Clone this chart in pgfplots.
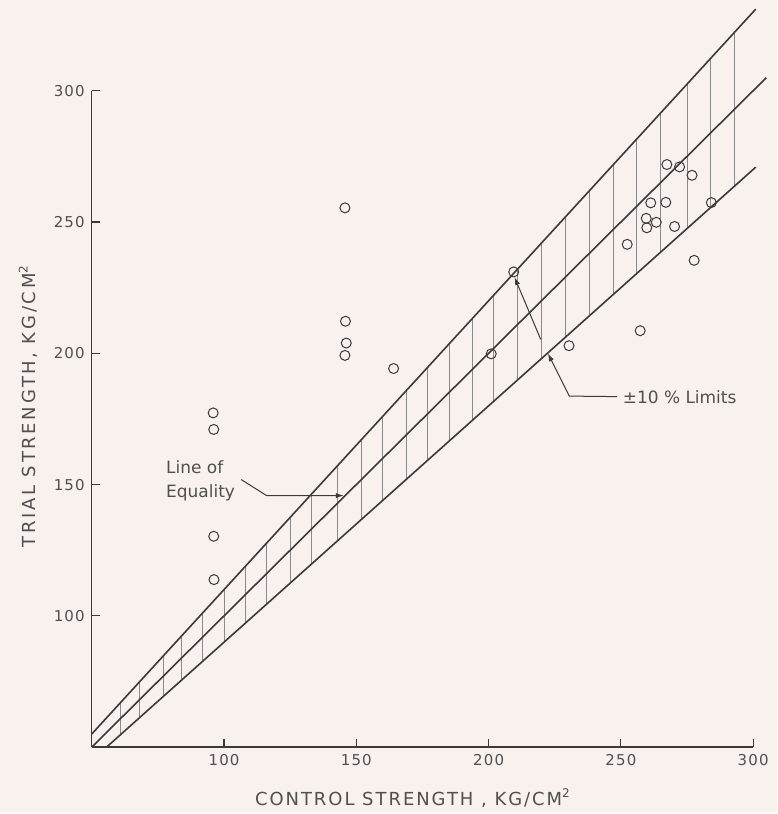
\documentclass[border=0pt]{standalone}
\usepackage{fontspec}
\setmainfont{DejaVu Sans}
\newfontfamily\tickfont[LetterSpace=8]{DejaVu Sans}
\newfontfamily\xlabfont[LetterSpace=11]{DejaVu Sans}
\newfontfamily\ylabfont[LetterSpace=15]{DejaVu Sans}
\usepackage{pgfplots}
\pgfplotsset{compat=1.18}
\usetikzlibrary{arrows.meta,backgrounds}
\definecolor{bg}{HTML}{F8F1ED}
\definecolor{ink}{HTML}{3A3A3A}
\definecolor{txt}{HTML}{505050}
\definecolor{hatch}{HTML}{8A8A8A}

\begin{document}
\begin{tikzpicture}
\begin{axis}[
  x=1.326pt, y=1.316pt,
  xmin=50, xmax=300, ymin=50, ymax=300,
  axis x line=bottom, axis y line=left,
  x axis line style={-}, y axis line style={-},
  axis line style={ink, line width=0.7pt},
  xtick={100,150,200,250,300}, ytick={100,150,200,250,300},
  tick align=inside,
  major tick length=4pt,
  tick style={ink, line width=0.6pt},
  ticklabel style={font=\tickfont\fontsize{7.5}{9}\selectfont, text=txt},
  /pgf/number format/assume math mode=true,
  clip=false,
  unbounded coords=jump,
]
\coordinate (bl) at (axis cs:15.31,25.30);
\coordinate (tr) at (axis cs:309.05,334.57);

% hatching between the +-10% limits
\addplot[hatch, line width=0.4pt] coordinates {
(61,54.9) (61,67.1) (61,nan)
(68,61.2) (68,74.8) (68,nan)
(77,69.3) (77,84.7) (77,nan)
(84,75.6) (84,92.4) (84,nan)
(92,82.8) (92,101.2) (92,nan)
(100,90) (100,110) (100,nan)
(108,97.2) (108,118.8) (108,nan)
(116,104.4) (116,127.6) (116,nan)
(125,112.5) (125,137.5) (125,nan)
(133,119.7) (133,146.3) (133,nan)
(143,128.7) (143,157.3) (143,nan)
(152,136.8) (152,167.2) (152,nan)
(160,144) (160,176) (160,nan)
(169,152.1) (169,185.9) (169,nan)
(177,159.3) (177,194.7) (177,nan)
(185,166.5) (185,203.5) (185,nan)
(194,174.6) (194,213.4) (194,nan)
(202,181.8) (202,222.2) (202,nan)
(211,189.9) (211,232.1) (211,nan)
(220,198) (220,242) (220,nan)
(229,206.1) (229,251.9) (229,nan)
(238,214.2) (238,261.8) (238,nan)
(247,222.3) (247,271.7) (247,nan)
(256,230.4) (256,281.6) (256,nan)
(265,238.5) (265,291.5) (265,nan)
(275,247.5) (275,302.5) (275,nan)
(284,255.6) (284,312.4) (284,nan)
(293,263.7) (293,322.3)
};

% +10 %, equality, -10 %
\addplot[ink, line width=0.8pt] coordinates {(50,55) (301,331.1)};
\addplot[ink, line width=0.8pt] coordinates {(50,50) (305,305)};
\addplot[ink, line width=0.8pt] coordinates {(55.6,50) (301,270.9)};

% test results
\addplot[only marks, mark=o, mark size=2.5pt, mark options={ink, line width=0.5pt}] coordinates {
(145.7,255.4) (145.9,212.2) (146.2,203.9) (145.7,199.2) (164.1,194.2)
(95.9,177.3) (96.1,171.0) (96.1,130.3) (96.2,113.8)
(201.0,199.8) (230.4,202.9) (209.5,231.0)
(252.4,241.5) (257.3,208.6)
(267.4,271.9) (272.2,271.0) (276.9,267.8)
(261.3,257.3) (267.0,257.5)
(259.6,251.4) (263.4,249.9) (259.8,247.8) (270.3,248.3)
(284.2,257.4) (277.7,235.4)
};

% annotations
\node[anchor=west, align=left, font=\fontsize{8.5}{12}\selectfont, text=txt, inner sep=0pt]
  at (axis cs:78,151.5) {Line of\\Equality};
\draw[ink, line width=0.5pt, -{Latex[length=4pt,width=2.6pt]}]
  (axis cs:106.5,151.9) -- (axis cs:116.1,145.8) -- (axis cs:145.3,145.8);

\node[anchor=west, font=\fontsize{8.5}{11}\selectfont, text=txt, inner sep=0pt]
  at (axis cs:250.6,183.3) {±10 \% Limits};
\draw[ink, line width=0.5pt, -{Latex[length=4pt,width=2.6pt]}]
  (axis cs:248.5,183.5) -- (axis cs:230.5,183.7) -- (axis cs:222.4,200.0);
\draw[ink, line width=0.5pt, -{Latex[length=4pt,width=2.6pt]}]
  (axis cs:219.7,205.3) -- (axis cs:209.8,229.0);

% axis titles
\node[font=\xlabfont\fontsize{9}{11}\selectfont, text=txt]
  at (axis cs:171.4,30.6) {CONTROL STRENGTH , KG/CM\textsuperscript{2}};
\node[rotate=90, font=\ylabfont\fontsize{9}{11}\selectfont, text=txt]
  at (axis cs:25.9,179.9) {TRIAL STRENGTH, KG/CM\textsuperscript{2}};
\end{axis}
\begin{scope}[on background layer]
\fill[bg] (bl) rectangle (tr);
\end{scope}
\end{tikzpicture}
\end{document}
